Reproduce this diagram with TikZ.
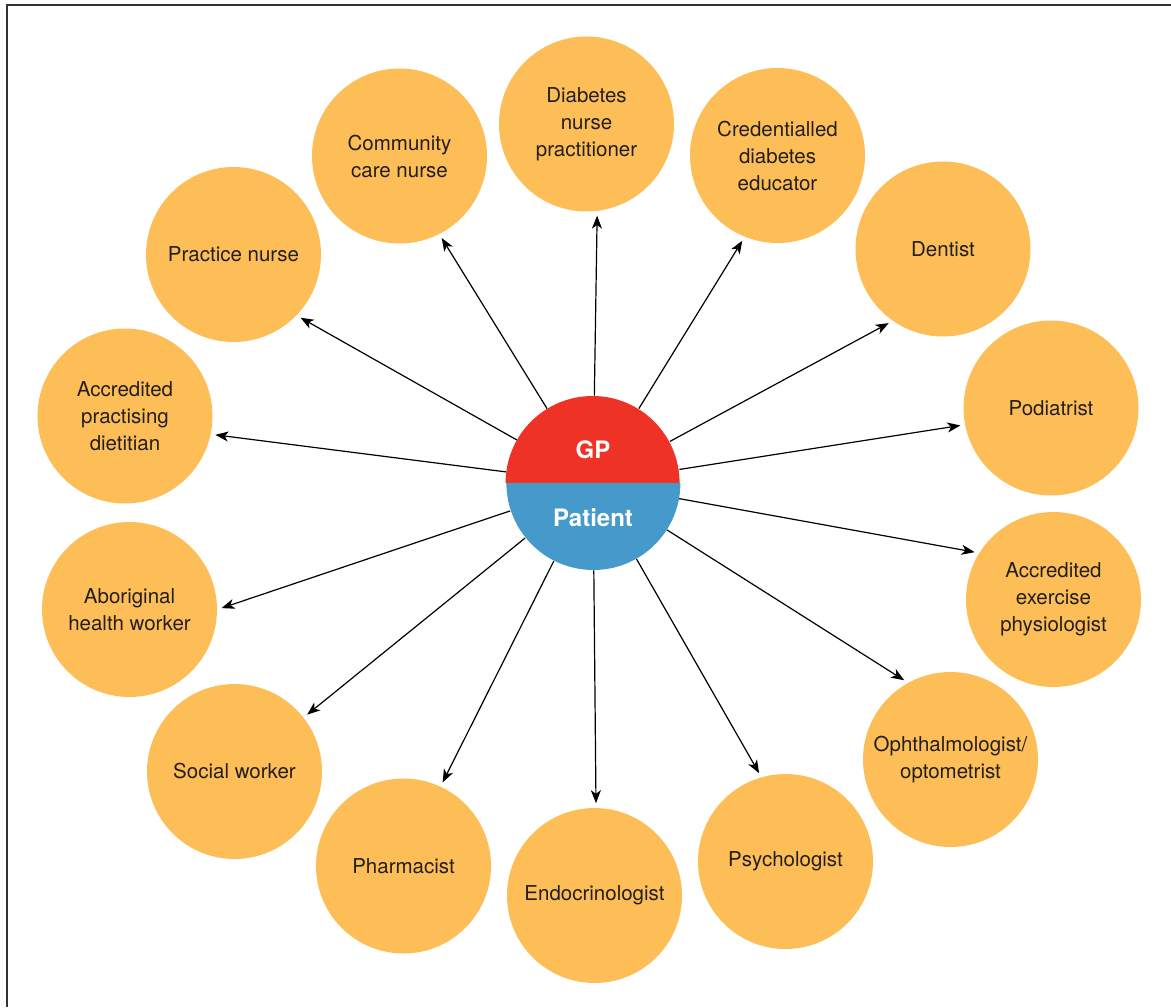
\documentclass[tikz,border=0pt]{standalone}
\usepackage{fontspec}
\setmainfont{TeX Gyre Heros}
\usetikzlibrary{arrows.meta}
\definecolor{memberfill}{HTML}{FDBE57}
\definecolor{gpred}{HTML}{EE3326}
\definecolor{patientblue}{HTML}{4599CB}
\definecolor{inktext}{HTML}{231F20}

\begin{document}
\begin{tikzpicture}[
  x=0.5pt,y=0.5pt,
  member/.style={
    circle,
    fill=memberfill,
    minimum size=87.5pt,
    inner sep=0pt,
    align=center,
    text=inktext,
    font=\fontsize{10.25}{13.5}\selectfont
  },
  hub/.style={circle,minimum size=87pt,inner sep=0pt},
  hubtext/.style={text=white,font=\fontsize{12}{14}\selectfont\bfseries},
  link/.style={line width=.6pt,black,shorten >=2.2pt,
    -{Stealth[length=6.5pt,width=5pt,inset=1.8pt]}}
]
  \useasboundingbox (-593,-524) rectangle (578,483);
  \draw[line width=.75pt,black!80] (-586,-524) -- (-586,478) -- (578,478);

  % the team round the GP and patient
  \node[member] (dnp) at (-6.5,359) {Diabetes\\nurse\\practitioner};
  \node[member] (cde) at (184.5,327.5) {Credentialled\\diabetes\\educator};
  \node[member] (dentist) at (350,234) {Dentist};
  \node[member] (podiatrist) at (458,75) {Podiatrist};
  \node[member] (aep) at (460.5,-116.5) {Accredited\\exercise\\physiologist};
  \node[member] (ophth) at (357.5,-276.5) {Ophthalmologist/\\optometrist};
  \node[member] (psych) at (192.5,-378.5) {Psychologist};
  \node[member] (endo) at (1.5,-412.5) {Endocrinologist};
  \node[member] (pharm) at (-189.5,-383) {Pharmacist};
  \node[member] (social) at (-358.5,-288.5) {Social worker};
  \node[member] (aborig) at (-463.5,-126.5) {Aboriginal\\health worker};
  \node[member] (apd) at (-468,67) {Accredited\\practising\\dietitian};
  \node[member] (practice) at (-359.5,228.5) {Practice nurse};
  \node[member] (community) at (-193.5,327) {Community\\care nurse};

  % centre: GP over patient
  \node[hub] (hub) at (0,0) {};
  \foreach \m/\a in {dnp/-83,cde/-112,dentist/235,podiatrist/191,
                     aep/148,ophth/119,psych/106,endo/89,pharm/65,
                     social/38,aborig/0,apd/-12,practice/-44,community/-63}
    \draw[link] (hub) -- (\m.\a);
  \fill[gpred] (hub.west) arc[start angle=180,end angle=0,radius=43.5pt] -- cycle;
  \fill[patientblue] (hub.east) arc[start angle=0,end angle=-180,radius=43.5pt] -- cycle;
  \node[hubtext] (gp) at (0,33) {GP};
  \node[hubtext] (patient) at (0,-35) {Patient};
\end{tikzpicture}
\end{document}
